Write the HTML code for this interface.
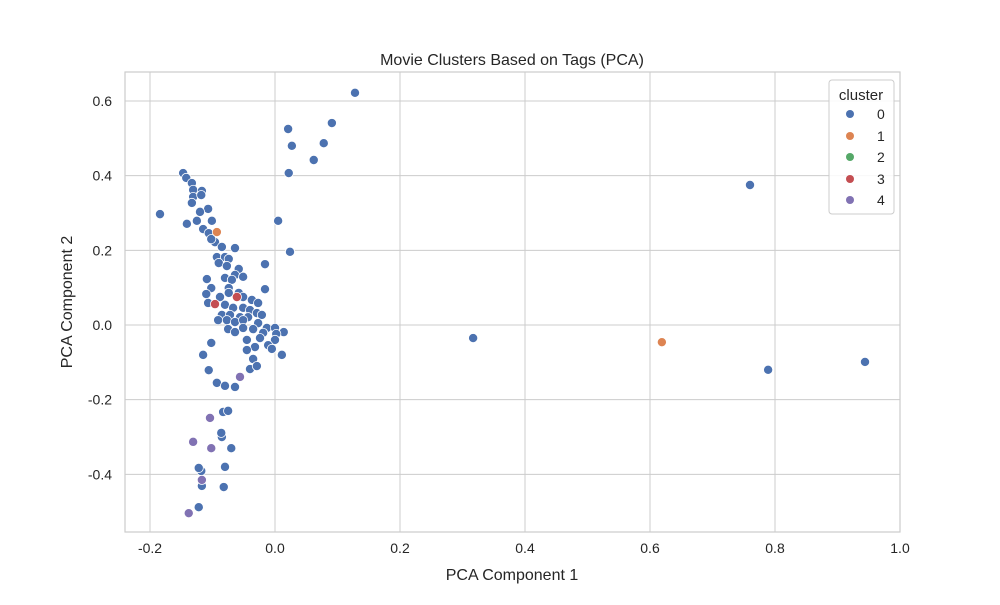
<!DOCTYPE html>
<html><head><meta charset="utf-8"><style>
body{margin:0;background:#fff;font-family:"Liberation Sans","DejaVu Sans",sans-serif;}
svg text{fill:#262626;font-family:"Liberation Sans","DejaVu Sans",sans-serif;}
</style></head><body>
<svg id="chart" width="1000" height="600" xmlns="http://www.w3.org/2000/svg">
<rect width="1000" height="600" fill="#fff"/>
<g id="grid"></g><g id="pts"></g><g id="axes"></g>
</svg>
<script>
const xVals=[-0.147,-0.142,-0.133,-0.131,-0.117,-0.131,-0.118,-0.133,-0.184,-0.107,-0.120,-0.101,-0.125,-0.141,-0.115,-0.106,-0.096,-0.102,-0.085,-0.064,-0.093,-0.080,-0.074,-0.090,-0.016,-0.077,-0.058,-0.064,-0.051,-0.080,-0.109,-0.069,-0.102,-0.074,-0.016,-0.110,-0.088,-0.074,-0.058,-0.107,-0.080,-0.051,-0.037,-0.027,-0.067,-0.051,-0.040,-0.029,-0.085,-0.072,-0.056,-0.043,-0.021,-0.091,-0.077,-0.064,-0.051,-0.027,-0.013,0.000,0.014,-0.075,-0.064,-0.051,-0.035,-0.019,0.002,-0.045,-0.024,0.000,-0.102,-0.032,-0.011,-0.045,-0.005,-0.115,-0.035,0.011,-0.106,-0.040,-0.029,-0.093,-0.080,-0.064,-0.083,-0.075,-0.085,-0.086,-0.070,-0.118,-0.122,-0.080,-0.117,-0.082,-0.122,0.128,0.021,0.027,0.091,0.078,0.062,0.022,0.005,0.024,0.317,0.760,0.789,0.944,0.619,-0.093,-0.096,-0.061,-0.056,-0.104,-0.131,-0.102,-0.117,-0.138];
const yVals=[0.407,0.394,0.380,0.362,0.359,0.343,0.348,0.327,0.297,0.311,0.303,0.279,0.279,0.271,0.257,0.246,0.222,0.230,0.209,0.206,0.182,0.182,0.177,0.166,0.163,0.158,0.150,0.134,0.129,0.126,0.123,0.121,0.099,0.099,0.096,0.083,0.075,0.086,0.086,0.059,0.054,0.075,0.067,0.059,0.046,0.046,0.040,0.032,0.027,0.027,0.021,0.021,0.027,0.013,0.013,0.008,0.013,0.005,-0.008,-0.008,-0.019,-0.011,-0.019,-0.008,-0.011,-0.021,-0.024,-0.040,-0.035,-0.040,-0.048,-0.059,-0.054,-0.067,-0.064,-0.080,-0.091,-0.080,-0.121,-0.118,-0.110,-0.155,-0.163,-0.166,-0.233,-0.230,-0.300,-0.289,-0.330,-0.391,-0.383,-0.380,-0.431,-0.434,-0.488,0.622,0.525,0.480,0.541,0.487,0.442,0.407,0.279,0.196,-0.035,0.375,-0.120,-0.099,-0.046,0.249,0.056,0.075,-0.139,-0.249,-0.313,-0.330,-0.415,-0.504];
const clusters=[0,0,0,0,0,0,0,0,0,0,0,0,0,0,0,0,0,0,0,0,0,0,0,0,0,0,0,0,0,0,0,0,0,0,0,0,0,0,0,0,0,0,0,0,0,0,0,0,0,0,0,0,0,0,0,0,0,0,0,0,0,0,0,0,0,0,0,0,0,0,0,0,0,0,0,0,0,0,0,0,0,0,0,0,0,0,0,0,0,0,0,0,0,0,0,0,0,0,0,0,0,0,0,0,0,0,0,0,1,1,3,3,4,4,4,4,4,4];
const xTicks=[-0.2,0.0,0.2,0.4,0.6,0.8,1.0];
const yTicks=[-0.4,-0.2,0.0,0.2,0.4,0.6];
const clusterLabels=["0","1","2","3","4"];
const colors=["#4c72b0","#dd8452","#55a868","#c44e52","#8172b3"];
const L=125,R=900,T=72,B=532;
const sx=v=>275+v*625, sy=v=>325-v*373.33;
const NS="http://www.w3.org/2000/svg";
function mk(t,a,p){const e=document.createElementNS(NS,t);for(const k in a)e.setAttribute(k,a[k]);p.appendChild(e);return e;}
const grid=document.getElementById('grid'),axes=document.getElementById('axes'),pts=document.getElementById('pts');
xTicks.forEach(t=>{const x=sx(t);
 const g=mk('line',{x1:x,x2:x,y1:T,y2:B,stroke:'#cccccc','stroke-width':1},grid);
 
 
 const tx=mk('text',{x:x,y:B+21,'text-anchor':'middle','font-size':14},axes);tx.textContent=t.toFixed(1);
 
 });
yTicks.forEach(t=>{const y=sy(t);
 const g=mk('line',{x1:L,x2:R,y1:y,y2:y,stroke:'#cccccc','stroke-width':1},grid);
 
 
 const tx=mk('text',{x:L-13,y:y+5,'text-anchor':'end','font-size':14},axes);tx.textContent=t.toFixed(1);
 
 });
const fr=mk('rect',{x:L,y:T,width:R-L,height:B-T,fill:'none',stroke:'#cccccc','stroke-width':1.2},axes);


xVals.forEach((v,i)=>{const c=mk('circle',{cx:sx(v),cy:sy(yVals[i]),r:4.6,fill:colors[clusters[i]],stroke:'#fff','stroke-width':0.8},pts);
 
 });
</script>
<svg style="position:absolute;left:0;top:0" width="1000" height="600" xmlns="http://www.w3.org/2000/svg">
<text x="512" y="65" text-anchor="middle" font-size="16">Movie Clusters Based on Tags (PCA)</text>
<text x="512" y="580" text-anchor="middle" font-size="16">PCA Component 1</text>
<text x="72" y="302" text-anchor="middle" font-size="16" transform="rotate(-90 72 302)">PCA Component 2</text>
<g>
<rect x="829" y="80" width="65" height="134" rx="3" fill="#fff" fill-opacity="0.85" stroke="#cccccc"/>
<text x="861" y="100" text-anchor="middle" font-size="15">cluster</text>
<g><circle cx="850" cy="114" r="4" fill="#4c72b0"/><text x="877" y="119" font-size="14">0</text></g>
<g><circle cx="850" cy="136" r="4" fill="#dd8452"/><text x="877" y="141" font-size="14">1</text></g>
<g><circle cx="850" cy="157" r="4" fill="#55a868"/><text x="877" y="162" font-size="14">2</text></g>
<g><circle cx="850" cy="179" r="4" fill="#c44e52"/><text x="877" y="184" font-size="14">3</text></g>
<g><circle cx="850" cy="200" r="4" fill="#8172b3"/><text x="877" y="205" font-size="14">4</text></g>
</g>
</svg>
</body></html>
